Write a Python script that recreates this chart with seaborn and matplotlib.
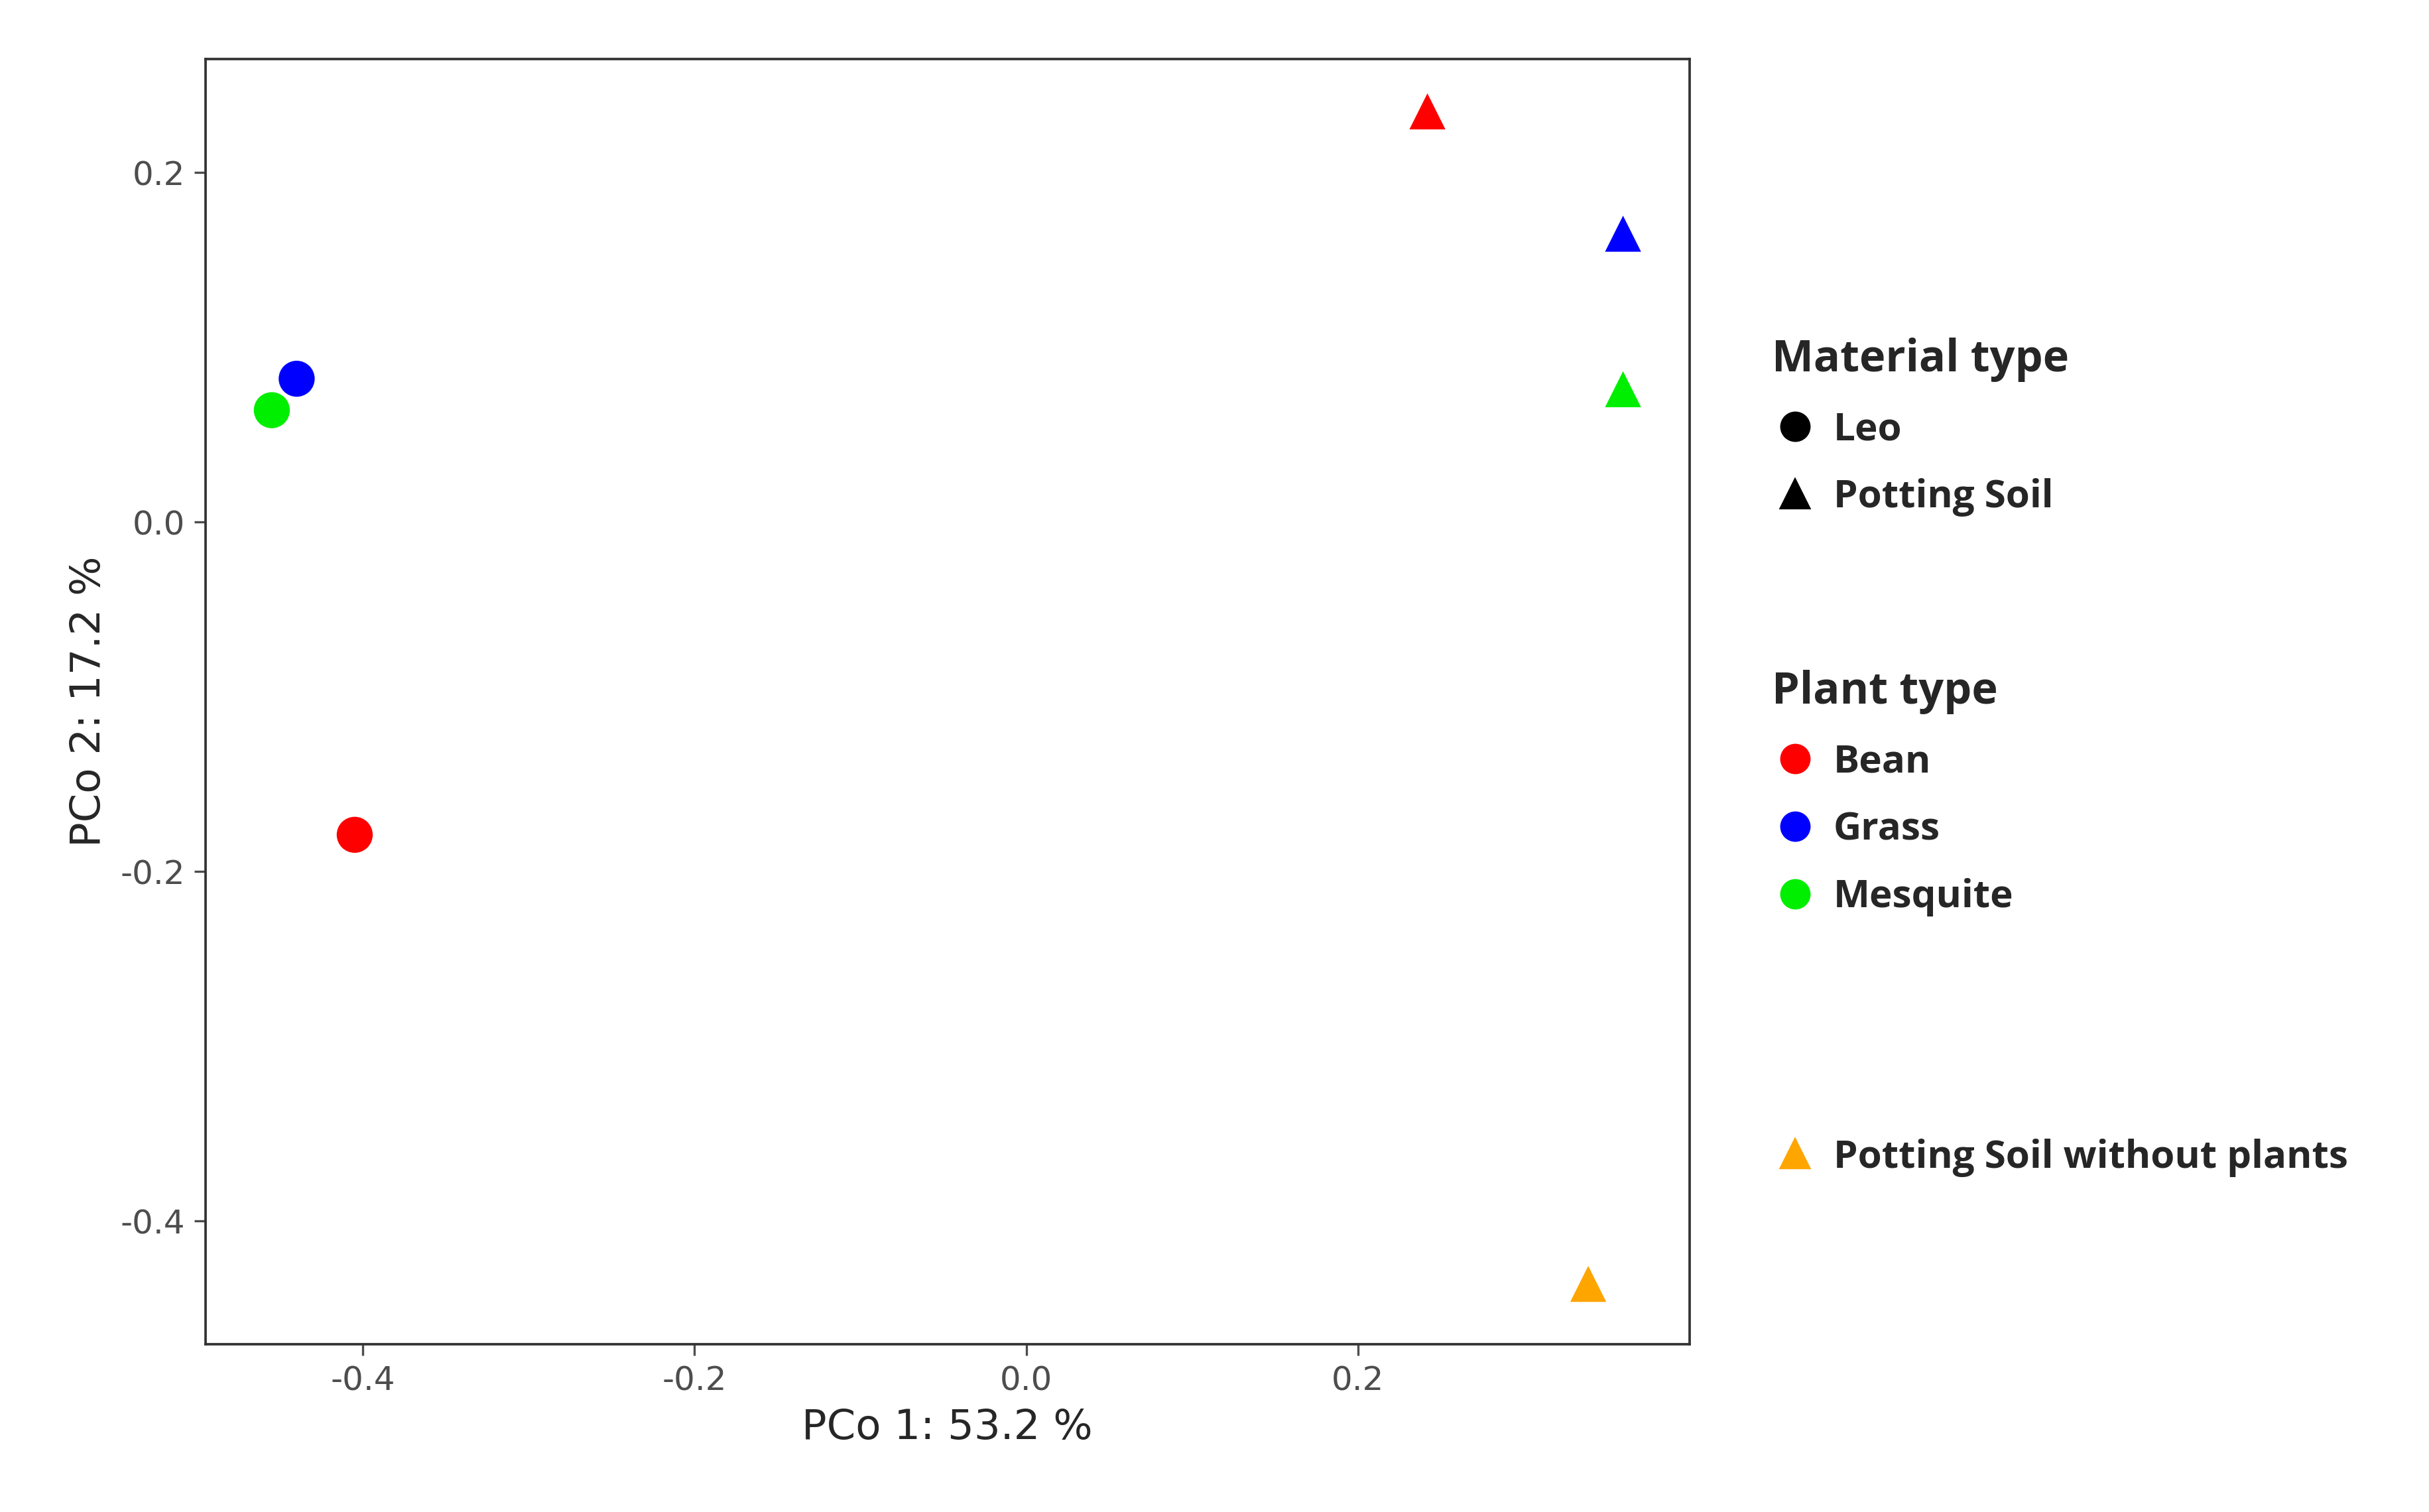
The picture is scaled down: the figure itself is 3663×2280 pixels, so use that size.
import matplotlib
matplotlib.use("Agg")
import matplotlib.pyplot as plt
from matplotlib.lines import Line2D
import seaborn as sns
import pandas as pd

# PCoA coordinates
pco1 = [-0.405, -0.440, -0.455, 0.242, 0.360, 0.360, 0.339]
pco2 = [-0.179, 0.082, 0.064, 0.235, 0.165, 0.076, -0.436]
plant = ["Bean", "Grass", "Mesquite", "Bean", "Grass", "Mesquite", "None"]
material = ["Leo", "Leo", "Leo", "Potting Soil", "Potting Soil", "Potting Soil", "Potting Soil"]

palette = {"Bean": "#FF0000", "Grass": "#0000FF", "Mesquite": "#00EE00", "None": "#FFA500"}
markers = {"Leo": "o", "Potting Soil": "^"}

df = pd.DataFrame({"x": pco1, "y": pco2, "plant": plant, "material": material})

sns.set_style("white")
plt.rcParams['font.family'] = ['DejaVu Sans']
fig = plt.figure(figsize=(12.21, 7.6), dpi=300)
ax = fig.add_axes([0.0846, 0.111, 0.6109, 0.850])
sns.scatterplot(data=df, x="x", y="y", hue="plant", style="material",
                palette=palette, markers=markers, s=170, linewidth=0,
                legend=False, ax=ax)
ax.set_xlim(-0.495, 0.4)
ax.set_ylim(-0.4705, 0.265)
ax.set_xticks([-0.4, -0.2, 0.0, 0.2])
ax.set_yticks([-0.4, -0.2, 0.0, 0.2])
ax.set_xticklabels(["-0.4", "-0.2", "0.0", "0.2"])
ax.set_yticklabels(["-0.4", "-0.2", "0.0", "0.2"])
ax.tick_params(labelsize=12, colors="#4d4d4d", length=4, direction="out", left=True, bottom=True)
ax.set_xlabel("PCo 1: 53.2 %", fontsize=15)
ax.set_ylabel("PCo 2: 17.2 %", fontsize=15)
for sp in ax.spines.values():
    sp.set_color("#333333")
    sp.set_linewidth(0.9)

lfont = {"family": "Open Sans", "weight": "bold", "size": 14}
tfont = {"family": "Open Sans", "weight": "bold", "size": 16}

def handle(m, c):
    return Line2D([], [], marker=m, color=c, linestyle="", markersize=10)

mat_handles = [handle(markers[k], "black") for k in ["Leo", "Potting Soil"]]
leg1 = fig.legend(mat_handles, ["Leo", "Potting Soil"], title="Material type",
                  loc="upper left", bbox_to_anchor=(0.715, 0.80), frameon=False,
                  prop=lfont, title_fontproperties=tfont, alignment="left",
                  handletextpad=0.4, labelspacing=0.75, handlelength=1.2)
plant_handles = [handle("o", palette[k]) for k in ["Bean", "Grass", "Mesquite"]]
leg2 = fig.legend(plant_handles, ["Bean", "Grass", "Mesquite"], title="Plant type",
                  loc="upper left", bbox_to_anchor=(0.715, 0.58), frameon=False,
                  prop=lfont, title_fontproperties=tfont, alignment="left",
                  handletextpad=0.4, labelspacing=0.75, handlelength=1.2)
leg3 = fig.legend([handle("^", palette["None"])], ["Potting Soil without plants"],
                  loc="upper left", bbox_to_anchor=(0.715, 0.27), frameon=False,
                  prop=lfont, handletextpad=0.4, handlelength=1.2)

fig.savefig("out.png", dpi=300)
